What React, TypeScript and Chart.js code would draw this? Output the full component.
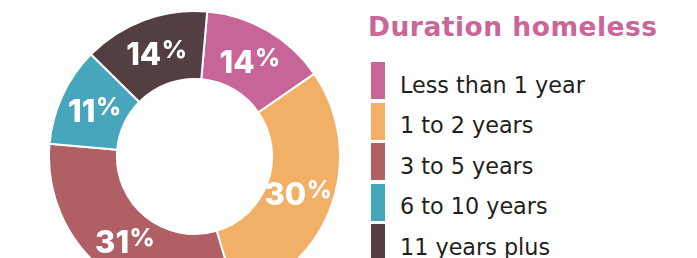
import React, { useEffect, useRef } from "react";
import { Chart, registerables } from "chart.js";

Chart.register(...registerables);

const categories = ["Less than 1 year", "1 to 2 years", "3 to 5 years", "6 to 10 years", "11 years plus"];
const shares = [14, 30, 31, 11, 14];
const sliceColors = ["#c86598", "#f1b066", "#b06065", "#46a7bc", "#533f42"];
const chartTitle = "Duration homeless";
const titleColor = "#cc6699";
const textColor = "#231f20";

const labelPlugin = {
  id: "sliceLabels",
  afterDatasetsDraw(chart: any) {
    const ctx = chart.ctx;
    const meta = chart.getDatasetMeta(0);
    const ds = chart.data.datasets[0];
    meta.data.forEach((arc: any, i: number) => {
      const p = arc.getProps(["x", "y", "startAngle", "endAngle", "innerRadius", "outerRadius"], true);
      const mid = (p.startAngle + p.endAngle) / 2;
      const r = (p.innerRadius + p.outerRadius) / 2 - 1.5;
      const cx = p.x + Math.cos(mid) * r;
      const cy = p.y + Math.sin(mid) * r;
      const num = String(ds.data[i]);
      ctx.save();
      ctx.fillStyle = "#ffffff";
      ctx.textBaseline = "alphabetic";
      ctx.textAlign = "left";
      const bigFont = "800 31px Inter";
      const smallFont = "800 24.5px Inter";
      ctx.font = bigFont;
      const w1 = ctx.measureText(num).width;
      ctx.font = smallFont;
      const w2 = ctx.measureText("%").width;
      const total = w1 + 0.5 + w2;
      const x0 = cx - total / 2;
      const baseline = cy + 11.5;
      ctx.font = bigFont;
      ctx.fillText(num, x0, baseline);
      ctx.font = smallFont;
      ctx.fillText("%", x0 + w1 + 0.5, baseline - 7);
      ctx.restore();
    });
  },
};

export default function App() {
  const ref = useRef<HTMLCanvasElement | null>(null);
  useEffect(() => {
    if (!ref.current) return;
    const chart = new Chart(ref.current, {
      type: "doughnut",
      data: {
        labels: categories,
        datasets: [
          {
            data: shares,
            backgroundColor: sliceColors,
            borderColor: "#ffffff",
            borderWidth: 2,
          },
        ],
      },
      options: {
        animation: false,
        responsive: false,
        rotation: 5,
        cutout: "53.3%",
        plugins: { legend: { display: false }, tooltip: { enabled: false } },
      },
      plugins: [labelPlugin],
    });
    (document as any).fonts?.load?.("800 31px Inter").then(() => chart.draw());
    return () => chart.destroy();
  }, []);

  const pitch = 40.5;
  return (
    <div
      style={{
        position: "fixed",
        left: 0,
        top: 0,
        width: 697,
        height: 258,
        overflow: "hidden",
        background: "#ffffff",
      }}
    >
      <canvas
        ref={ref}
        width={293}
        height={293}
        style={{ position: "absolute", left: 48, top: 9.5, width: 293, height: 293 }}
      />
      <div
        style={{
          position: "absolute",
          left: 368,
          top: 13.6,
          font: "700 26.5px 'DejaVu Sans'",
          lineHeight: "26.5px",
          letterSpacing: "0.5px",
          color: titleColor,
          whiteSpace: "nowrap",
        }}
      >
        {chartTitle}
      </div>
      {categories.map((c, i) => (
        <React.Fragment key={c}>
          <div
            style={{
              position: "absolute",
              left: 371,
              top: 62 + i * pitch,
              width: 14,
              height: 37,
              background: sliceColors[i],
            }}
          />
          <div
            style={{
              position: "absolute",
              left: 400,
              top: 62 + i * pitch + 30.5 - 19,
              font: "400 22.3px 'DejaVu Sans'",
              lineHeight: "22.3px",
              color: textColor,
              whiteSpace: "nowrap",
            }}
          >
            {c}
          </div>
        </React.Fragment>
      ))}
    </div>
  );
}
